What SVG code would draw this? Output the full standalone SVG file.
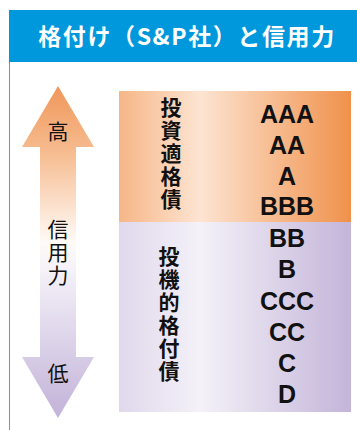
<svg xmlns="http://www.w3.org/2000/svg" width="357" height="430" viewBox="0 0 357 430">
<defs>
<linearGradient id="arrowGrad" x1="0" y1="86" x2="0" y2="418" gradientUnits="userSpaceOnUse">
<stop offset="0" stop-color="#f0975a"/>
<stop offset="0.2" stop-color="#f6bc90"/>
<stop offset="0.47" stop-color="#fffaf6"/>
<stop offset="0.55" stop-color="#f5f2f9"/>
<stop offset="1" stop-color="#c2b2d8"/>
</linearGradient>
<linearGradient id="topGrad" x1="0" y1="0" x2="1" y2="0">
<stop offset="0" stop-color="#f6b687"/>
<stop offset="0.35" stop-color="#fde4d2"/>
<stop offset="1" stop-color="#f0914b"/>
</linearGradient>
<linearGradient id="botGrad" x1="0" y1="0" x2="1" y2="0">
<stop offset="0" stop-color="#e0d8ec"/>
<stop offset="0.35" stop-color="#f4f1f8"/>
<stop offset="1" stop-color="#c4b5d9"/>
</linearGradient>
<style>
.title{font-family:"Noto Sans CJK JP","Noto Sans",sans-serif;font-weight:bold;font-size:23px;letter-spacing:1.6px;fill:#ffffff;}
.jp{font-family:"Noto Sans CJK JP",sans-serif;font-size:21px;fill:#111111;}
.vert{writing-mode:vertical-rl;letter-spacing:2px;}
.jpb{font-family:"Noto Sans CJK JP",sans-serif;font-size:21px;font-weight:bold;fill:#111111;}
.rate{font-family:"Liberation Sans",Arial,sans-serif;font-weight:bold;font-size:25px;fill:#111111;text-anchor:middle;}
</style>
</defs>
<g id="header">
<rect x="9" y="10" width="348" height="52" fill="#0098dc"/>
<text class="title" x="187" y="45" text-anchor="middle">格付け（S&amp;P社）と信用力</text>
</g>
<line x1="9.5" y1="62" x2="9.5" y2="430" stroke="#3aa7e0" stroke-width="1"/>
<g id="arrow">
<polygon points="58,86 94,147 76,147 76,357 94,357 58,418 22,357 40,357 40,147 22,147" fill="url(#arrowGrad)"/>
<text class="jp" x="58" y="139" text-anchor="middle">高</text>
<text class="jp vert" x="58" y="219">信用力</text>
<text class="jp" x="58" y="381" text-anchor="middle">低</text>
</g>
<g id="investment-grade">
<rect x="119" y="91" width="232" height="131" fill="url(#topGrad)"/>
<text class="jpb vert" x="171" y="97">投資適格債</text>
<text class="rate"><tspan x="287" y="123">AAA</tspan><tspan x="287" y="154">AA</tspan><tspan x="287" y="185">A</tspan><tspan x="287" y="215">BBB</tspan></text>
</g>
<g id="speculative-grade">
<rect x="119" y="222" width="232" height="190" fill="url(#botGrad)"/>
<text class="jpb vert" x="169" y="246">投機的格付債</text>
<text class="rate"><tspan x="287" y="247">BB</tspan><tspan x="287" y="278">B</tspan><tspan x="287" y="310">CCC</tspan><tspan x="287" y="341">CC</tspan><tspan x="287" y="372">C</tspan><tspan x="287" y="403">D</tspan></text>
</g>
<g id="connectors"/>
</svg>
